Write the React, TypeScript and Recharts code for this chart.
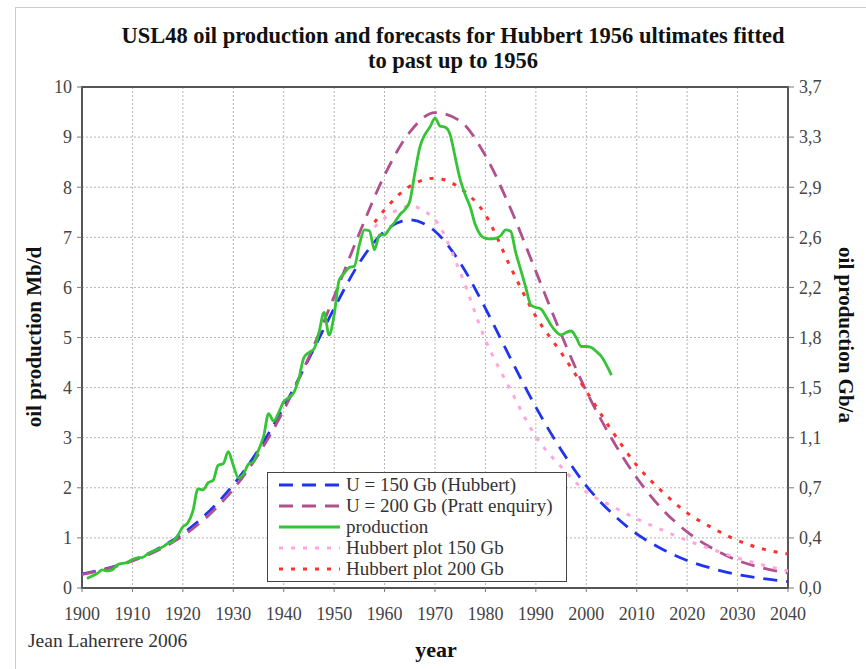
import { CartesianGrid, Line, LineChart, ReferenceArea, XAxis, YAxis } from "recharts";

// Hubbert 1956 model curves, read every 5 years
const modelYears = [
  1900, 1905, 1910, 1915, 1920, 1925, 1930, 1935, 1940, 1945, 1950, 1955, 1960, 1965, 1970,
  1975, 1980, 1985, 1990, 1995, 2000, 2005, 2010, 2015, 2020, 2025, 2030, 2035, 2040,
];
const hubbert150 = [
  0.28, 0.39, 0.55, 0.78, 1.09, 1.51, 2.06, 2.76, 3.61, 4.58, 5.58, 6.49, 7.12, 7.35, 7.12,
  6.49, 5.58, 4.58, 3.61, 2.76, 2.04, 1.5, 1.08, 0.78, 0.55, 0.39, 0.27, 0.19, 0.13,
];
const pratt200 = [
  0.27, 0.38, 0.54, 0.75, 1.04, 1.44, 1.97, 2.67, 3.55, 4.61, 5.82, 7.08, 8.24, 9.1, 9.49,
  9.32, 8.63, 7.57, 6.32, 5.07, 3.93, 2.99, 2.2, 1.58, 1.12, 0.79, 0.55, 0.4, 0.3,
];

// Hubbert plot forecasts
const plotYears = [
  1958, 1960, 1965, 1970, 1975, 1980, 1985, 1990, 1995, 2000, 2005, 2010, 2015, 2020, 2025,
  2030, 2035, 2040,
];
const hubbertPlot150 = [
  7.2, 7.38, 7.62, 7.35, 6.3, 4.95, 3.95, 3.02, 2.42, 1.92, 1.64, 1.38, 1.16, 0.95, 0.77,
  0.6, 0.46, 0.34,
];
const hubbertPlot200 = [
  7.3, 7.55, 8.02, 8.18, 7.98, 7.45, 6.4, 5.42, 4.7, 3.93, 3.15, 2.45, 1.93, 1.5, 1.2, 0.95,
  0.78, 0.68,
];

// USL48 production Mb/d, 1901-2005
const prodStart = 1901;
const production = [
  0.19, 0.24, 0.29, 0.36, 0.34, 0.36, 0.46, 0.49, 0.51, 0.57,
  0.6, 0.61, 0.68, 0.73, 0.77, 0.82, 0.89, 0.93, 1.05, 1.22,
  1.3, 1.54, 1.98, 1.96, 2.1, 2.15, 2.45, 2.48, 2.72, 2.45,
  2.2, 2.27, 2.47, 2.52, 2.75, 3.02, 3.48, 3.33, 3.5, 3.72,
  3.8, 3.9, 4.18, 4.6, 4.7, 4.77, 5.1, 5.5, 5.05, 5.45,
  6.15, 6.28, 6.4, 6.42, 6.85, 7.15, 7.13, 6.75, 7.05, 7.05,
  7.18, 7.3, 7.45, 7.55, 7.72, 8.28, 8.8, 9.05, 9.2, 9.38,
  9.22, 9.2, 9.05, 8.6, 8.15, 7.85, 7.6, 7.25, 7.05, 6.98,
  6.97, 6.98, 7.03, 7.15, 7.12, 6.7, 6.35, 6.0, 5.65, 5.6,
  5.57, 5.42, 5.25, 5.12, 5.05, 5.1, 5.13, 5.0, 4.82, 4.82,
  4.8, 4.72, 4.62, 4.45, 4.25,
];

const yearTicks = [1900, 1910, 1920, 1930, 1940, 1950, 1960, 1970, 1980, 1990, 2000, 2010, 2020, 2030, 2040];
const mbdTicks = [0, 1, 2, 3, 4, 5, 6, 7, 8, 9, 10];
const gbaLabels = ["0,0", "0,4", "0,7", "1,1", "1,5", "1,8", "2,2", "2,6", "2,9", "3,3", "3,7"];

const BLUE = "#1f33f0";
const MAUVE = "#b0508e";
const GREEN = "#35c435";
const PINK = "#ffa6dc";
const RED = "#ff3030";
const FONT = '"Liberation Serif", "Times New Roman", serif';

const toSeries = (years: number[], vals: number[]) => years.map((year, i) => ({ year, value: vals[i] }));

const u150 = toSeries(modelYears, hubbert150);
const u200 = toSeries(modelYears, pratt200);
const hp150 = toSeries(plotYears, hubbertPlot150);
const hp200 = toSeries(plotYears, hubbertPlot200);
const prod = production.map((value, i) => ({ year: prodStart + i, value }));

const legendRows = [
  { name: "U = 150 Gb (Hubbert)", color: BLUE, dash: "14 9" },
  { name: "U = 200 Gb (Pratt enquiry)", color: MAUVE, dash: "14 9" },
  { name: "production", color: GREEN, dash: undefined },
  { name: "Hubbert plot 150 Gb", color: PINK, dash: "4 8" },
  { name: "Hubbert plot 200 Gb", color: RED, dash: "4 8" },
];

function LegendBox() {
  return (
    <div
      style={{
        position: "absolute",
        left: 267,
        top: 472,
        width: 300,
        height: 110,
        boxSizing: "border-box",
        border: "1.5px solid #444",
        background: "#fff",
        padding: "1px 0 0 10px",
        fontFamily: FONT,
        fontSize: 19,
        color: "#333",
        lineHeight: "21px",
      }}
    >
      {legendRows.map((r) => (
        <div key={r.name} style={{ display: "flex", alignItems: "center", height: 21 }}>
          <svg width={64} height={10} style={{ marginRight: 4, flex: "none" }}>
            <line x1={1} y1={5} x2={62} y2={5} stroke={r.color} strokeWidth={3} strokeDasharray={r.dash} />
          </svg>
          <span style={{ whiteSpace: "nowrap" }}>{r.name}</span>
        </div>
      ))}
    </div>
  );
}

const tickStyle = { fontFamily: FONT, fontSize: 18, fill: "#444" };
const labelStyle: React.CSSProperties = {
  position: "absolute",
  fontFamily: FONT,
  fontWeight: "bold",
  fontSize: 21,
  color: "#111",
  whiteSpace: "nowrap",
};

export default function App() {
  return (
    <div style={{ position: "absolute", left: 0, top: 0, width: 866, height: 669, background: "#fff", overflow: "hidden" }}>
      <div style={{ position: "absolute", left: 15, top: 7, width: 900, height: 700, borderLeft: "1px solid #ccc", borderTop: "1px solid #ccc" }} />
      <div
        style={{
          position: "absolute",
          left: 0,
          top: 23,
          width: 906,
          textAlign: "center",
          fontFamily: FONT,
          fontWeight: "bold",
          fontSize: 22.5,
          lineHeight: "25px",
          color: "#111",
        }}
      >
        USL48 oil production and forecasts for Hubbert 1956 ultimates fitted
        <br />
        to past up to 1956
      </div>
      <LineChart width={866} height={669} margin={{ top: 87, right: 28, bottom: 51, left: 32 }} style={{ position: "absolute", left: 0, top: 0 }}>
        <CartesianGrid stroke="#b5b5b5" strokeDasharray="2 2" yAxisId="left" />
        <XAxis
          type="number"
          dataKey="year"
          domain={[1900, 2040]}
          ticks={yearTicks}
          height={30}
          tick={tickStyle}
          tickSize={4}
          tickMargin={15}
          axisLine={false}
          tickLine={{ stroke: "#777" }}
        />
        <YAxis
          yAxisId="left"
          domain={[0, 10]}
          ticks={mbdTicks}
          width={50}
          tick={tickStyle}
          tickSize={5}
          tickMargin={5}
          axisLine={false}
          tickLine={{ stroke: "#777" }}
        />
        <YAxis
          yAxisId="right"
          orientation="right"
          domain={[0, 10]}
          ticks={mbdTicks}
          tickFormatter={(v: number) => gbaLabels[v]}
          width={50}
          tick={tickStyle}
          tickSize={6}
          tickMargin={5}
          axisLine={false}
          tickLine={{ stroke: "#777" }}
        />
        <ReferenceArea yAxisId="left" x1={1900} x2={2040} y1={0} y2={10} fill="none" stroke="#555" strokeWidth={2} ifOverflow="visible" />
        <Line yAxisId="left" data={u150} dataKey="value" type="monotone" stroke={BLUE} strokeWidth={2.8} strokeDasharray="14 9" dot={false} isAnimationActive={false} />
        <Line yAxisId="left" data={u200} dataKey="value" type="monotone" stroke={MAUVE} strokeWidth={2.8} strokeDasharray="14 9" dot={false} isAnimationActive={false} />
        <Line yAxisId="left" data={hp150} dataKey="value" type="monotone" stroke={PINK} strokeWidth={3} strokeDasharray="4 8" dot={false} isAnimationActive={false} />
        <Line yAxisId="left" data={hp200} dataKey="value" type="monotone" stroke={RED} strokeWidth={3} strokeDasharray="4 8" dot={false} isAnimationActive={false} />
        <Line yAxisId="right" data={prod} dataKey="value" type="monotone" stroke={GREEN} strokeWidth={2.8} dot={false} isAnimationActive={false} />
      </LineChart>
      <LegendBox />
      <div style={{ ...labelStyle, left: 34, top: 337, transform: "translate(-50%, -50%) rotate(-90deg)" }}>oil production Mb/d</div>
      <div style={{ ...labelStyle, left: 845, top: 335, transform: "translate(-50%, -50%) rotate(90deg)" }}>oil production Gb/a</div>
      <div style={{ ...labelStyle, fontSize: 22, left: 436, top: 650, transform: "translate(-50%, -50%)" }}>year</div>
      <div style={{ position: "absolute", left: 28, top: 630, fontFamily: FONT, fontSize: 19.5, color: "#333" }}>Jean Laherrere 2006</div>
    </div>
  );
}
